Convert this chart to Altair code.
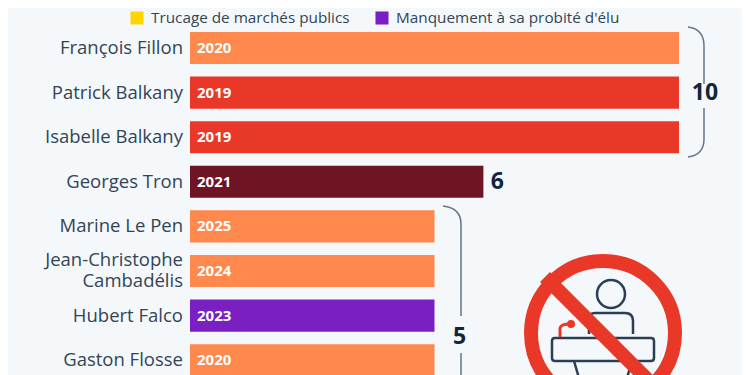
import altair as alt
import pandas as pd

names = ["François Fillon", "Patrick Balkany", "Isabelle Balkany", "Georges Tron", "Marine Le Pen",
         "Jean-Christophe|Cambadélis", "Hubert Falco", "Gaston Flosse"]
values = [10, 10, 10, 6, 5, 5, 5, 5]
years = ["2020", "2019", "2019", "2021", "2025", "2024", "2023", "2020"]
colors = ["#ff884d", "#ea3828", "#ea3828", "#6e1423", "#ff884d", "#ff884d", "#7a1fc2", "#ff884d"]

legend_labels = ["Trucage de marchés publics", "Manquement à sa probité d'élu"]
legend_colors = ["#ffd400", "#7a1fc2"]
legend_x = [-53, 192]

BG = "#f4f8fb"
INK = "#334455"
DARK = "#10263f"
RED = "#ea3828"
FONT = "Open Sans"

df = pd.DataFrame({"name": names, "value": values, "year": years, "color": colors})
two_line = df["name"].str.contains("|", regex=False)

y = alt.Y("name:N", sort=None, title=None, axis=None,
          scale=alt.Scale(domain=names, range=[17.7, 374.5], paddingInner=0.28, paddingOuter=0.14))
x = alt.X("value:Q", title=None, axis=None, scale=alt.Scale(domain=[0, 10], range=[0, 489]))

base = alt.Chart(df)
bars = base.mark_bar(cornerRadius=0).encode(x=x, y=y, color=alt.Color("color:N", scale=None))
name_text = alt.Chart(df[~two_line]).mark_text(align="right", baseline="middle", font=FONT, fontSize=18.5,
                                               color=INK, dy=0).encode(
    x=alt.value(-7), y=y, text="name:N")
name_text2 = alt.Chart(df[two_line]).mark_text(align="right", baseline="middle", font=FONT, fontSize=18.5,
                                               color=INK, lineBreak="|", lineHeight=21, dy=-11).encode(
    x=alt.value(-7), y=y, text="name:N")
year_text = base.mark_text(align="left", dx=7, font=FONT, fontWeight="bold", fontSize=15, color="white").encode(
    x=alt.value(0), y=y, text="year:N")

def count(label, who, dx, dy=0):
    d = pd.DataFrame({"name": [who], "value": [int(label)], "t": [label]})
    return alt.Chart(d).mark_text(align="center", baseline="middle", font=FONT, fontWeight="bold",
                                  fontSize=23, color=DARK, dx=dx, dy=dy).encode(x=x, y=y, text="t:N")

counts = [count("10", names[1], 26), count("6", names[3], 14), count("5", names[6], 25, 21)]

def path_mark(path, color, width):
    return alt.Chart(pd.DataFrame({"a": [0]})).mark_point(
        shape=path, size=4, stroke=color, strokeWidth=width, filled=False, opacity=1
    ).encode(x=alt.value(0), y=alt.value(0))

brackets = path_mark(
    "M498,19 Q514,21 514,38 V76 M514,100 V131 Q514,147 498,149 "
    "M253,198 Q271,200 271,216 V308 M271,345 V367",
    "#66758a", 1.5)

# podium icon, centred at plot px (413, 325)
cx, cy = 413, 325
icon_dark = (
    f"M{cx+8},{cy-53} a14,14 0 1,0 0.01,0 Z "
    f"M{cx-14},{cy+1} V{cy-14} Q{cx-14},{cy-20} {cx-8},{cy-20} H{cx+22} Q{cx+30},{cy-20} {cx+30},{cy-12} V{cy+1} "
    f"M{cx-49},{cy+5} H{cx+48} Q{cx+51},{cy+5} {cx+51},{cy+8} V{cy+25} Q{cx+51},{cy+28} {cx+48},{cy+28} H{cx-48} "
    f"Q{cx-51},{cy+28} {cx-51},{cy+25} V{cy+8} Q{cx-51},{cy+5} {cx-48},{cy+5} Z "
    f"M{cx-29},{cy+28} L{cx-24},{cy+45} M{cx+29},{cy+28} L{cx+24},{cy+45}"
)
icon = [
    path_mark(icon_dark, "#2a3f57", 2.5),
    path_mark(f"M{cx-43},{cy+4} V{cy-5} Q{cx-42},{cy-9} {cx-33},{cy-9}", RED, 3),
    path_mark(f"M{cx-32},{cy-11} a2,2 0 1,0 0.01,0 Z", RED, 4),
    path_mark(f"M{cx-58},{cy-56} L{cx+56},{cy+58}", RED, 14),
    path_mark(f"M{cx},{cy-72} a72,72 0 1,0 0.01,0 Z", RED, 14),
]

legend = []
for label, col, px in zip(legend_labels, legend_colors, legend_x):
    d = alt.Chart(pd.DataFrame({"label": [label]}))
    legend.append(d.mark_square(size=170, opacity=1, color=col).encode(x=alt.value(px), y=alt.value(10)))
    legend.append(d.mark_text(align="left", baseline="middle", font=FONT, fontSize=15.3, color=INK).encode(
        x=alt.value(px + 14), y=alt.value(10), text="label:N"))

chart = alt.layer(bars, name_text, name_text2, year_text, *counts, brackets, *icon, *legend).properties(
    width=552, height=367, background=BG,
    padding={"left": 182, "top": 0, "right": 0, "bottom": 0},
    autosize=alt.AutoSizeParams(type="none"),
).configure_view(stroke=None)

chart.save("out.html", embed_options={"renderer": "svg", "actions": False})
